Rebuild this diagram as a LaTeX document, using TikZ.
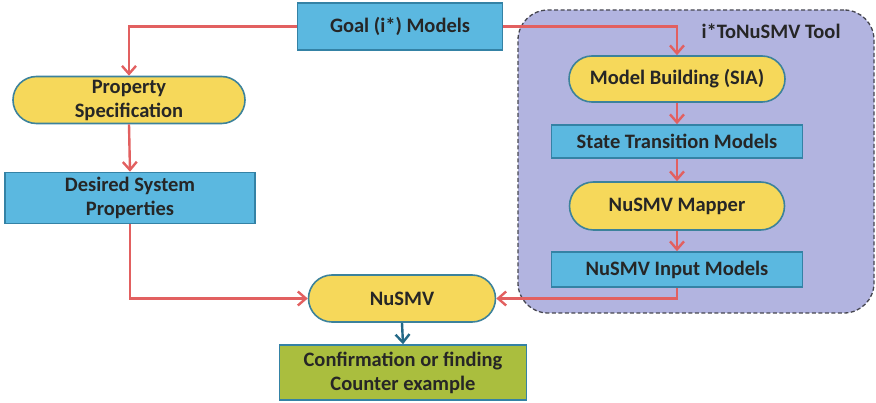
\documentclass[tikz,border=0pt]{standalone}
\usepackage{fontspec}
\setmainfont{Carlito}
\usetikzlibrary{shapes.misc,arrows.meta}
\definecolor{boxblue}{RGB}{91,184,224}
\definecolor{boxborder}{RGB}{52,130,165}
\definecolor{pillyellow}{RGB}{246,216,90}
\definecolor{pillborder}{RGB}{60,130,155}
\definecolor{resgreen}{RGB}{170,190,62}
\definecolor{arrred}{RGB}{226,96,96}
\definecolor{arrteal}{RGB}{35,105,135}
\definecolor{toolfill}{RGB}{178,180,224}
\definecolor{toolborder}{RGB}{70,70,80}
\tikzset{
  x=1pt,y=-1pt,
  every node/.style={font=\bfseries\fontsize{20.5}{24}\selectfont, text=black!85, align=center, inner sep=0pt},
  bluebox/.style={draw=boxborder, fill=boxblue, line width=1.6pt, rectangle},
  pill/.style={draw=pillborder, fill=pillyellow, line width=1.6pt, rounded rectangle},
  greenbox/.style={draw=boxborder, fill=resgreen, line width=1.6pt, rectangle},
  redarrow/.style={draw=arrred, line width=2.4pt, -{Straight Barb[length=8pt,width=14pt]}},
  tealarrow/.style={draw=arrteal, line width=2.4pt, -{Straight Barb[length=8pt,width=14pt]}},
}
\begin{document}
\begin{tikzpicture}
\useasboundingbox (0,0) rectangle (876,403);
% tool container
\node[draw=toolborder, fill=toolfill, dash pattern=on 4pt off 2.5pt, line width=1.3pt, rounded corners=30pt,
      minimum width=356pt, minimum height=303pt] (tool) at (696,161.5) {};
\node[anchor=center] (toollabel) at (771,31) {i*ToNuSMV Tool};
% nodes
\node[bluebox, minimum width=205pt, minimum height=47pt] (goal) at (400,26.5) {Goal (i*) Models};
\node[pill, minimum width=232pt, minimum height=47pt] (prop) at (129,100) {Property\\Specification};
\node[bluebox, minimum width=250pt, minimum height=51pt] (des) at (130,198) {Desired System\\Properties};
\node[pill, minimum width=216pt, minimum height=46pt] (mb) at (677,79) {Model Building (SIA)};
\node[bluebox, minimum width=251pt, minimum height=33pt] (st) at (677,141.5) {State Transition Models};
\node[pill, minimum width=215pt, minimum height=48pt] (map) at (677,206) {NuSMV Mapper};
\node[bluebox, minimum width=251pt, minimum height=35pt] (inp) at (677,269.5) {NuSMV Input Models};
\node[pill, minimum width=187pt, minimum height=47pt] (nusmv) at (402,298.5) {NuSMV};
\node[greenbox, minimum width=247pt, minimum height=55pt] (conf) at (403,372.5) {Confirmation or finding\\Counter example};
% connectors
\draw[redarrow] (goal.west) -| (prop.north);
\draw[redarrow] (goal.east) -| (mb.north);
\draw[redarrow] (prop.south) -- (des.north);
\draw[redarrow] (des.south) |- (nusmv.west);
\draw[redarrow] (mb.south) -- (st.north);
\draw[redarrow] (st.south) -- (map.north);
\draw[redarrow] (map.south) -- (inp.north);
\draw[redarrow] (inp.south) |- (nusmv.east);
\draw[tealarrow] (nusmv.south) -- (conf.north);
\end{tikzpicture}
\end{document}
